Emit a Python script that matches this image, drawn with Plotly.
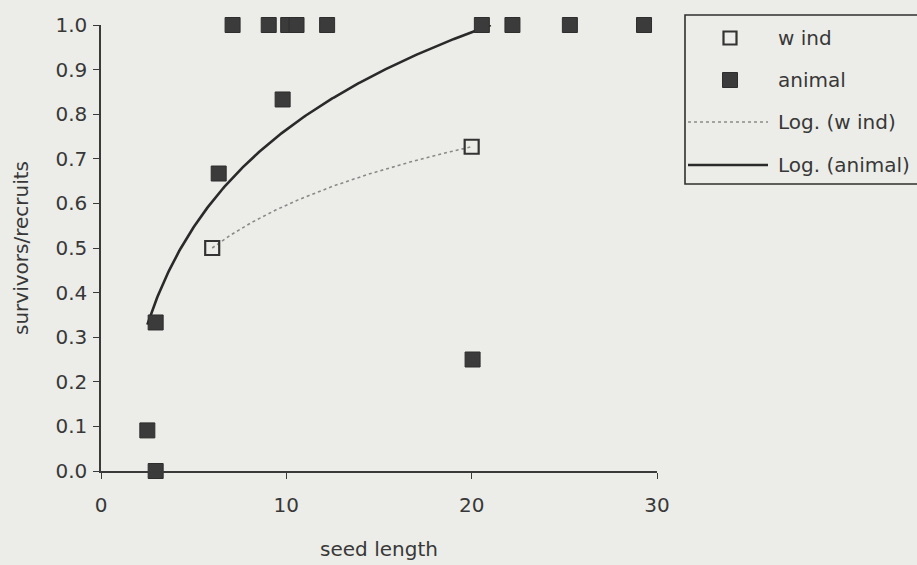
import numpy as np
import plotly.graph_objects as go

# ---- data ----
wind_x = [6.0, 20.0]
wind_y = [0.5, 0.727]

animal_x = [2.5, 2.95, 2.95, 6.35, 7.1, 9.05, 9.8, 10.1, 10.55, 12.2, 20.05, 20.55, 22.2, 25.3, 29.3]
animal_y = [0.091, 0.0, 0.333, 0.667, 1.0, 1.0, 0.833, 1.0, 1.0, 1.0, 0.25, 1.0, 1.0, 1.0, 1.0]

# logarithmic trendline coefficients: y = slope*ln(x) + intercept
animal_trend = dict(slope=0.3155, intercept=0.039)

x_ticks = [0, 10, 20, 30]
y_ticks = [0.0, 0.1, 0.2, 0.3, 0.4, 0.5, 0.6, 0.7, 0.8, 0.9, 1.0]
y_tick_text = [f"{v:.1f}" for v in y_ticks]

legend_labels = ["w ind", "animal", "Log. (w ind)", "Log. (animal)"]


def wind_fit(xs, ys):
    a, b = np.polyfit(np.log(np.asarray(xs, float)), np.asarray(ys, float), 1)
    return a, b


def log_curve(xs, a, b, ymax=1.0, n=300):
    xs = np.asarray(xs, float)
    x_end = xs.max()
    if a > 0:
        x_end = min(x_end, np.exp((ymax - b) / a))
    gx = np.linspace(xs.min(), x_end, n)
    return gx, a * np.log(gx) + b


wa, wb = wind_fit(wind_x, wind_y)
wind_tx, wind_ty = log_curve(wind_x, wa, wb)
animal_tx, animal_ty = log_curve(animal_x, animal_trend["slope"], animal_trend["intercept"])

BG = "#ecede8"
INK = "#333333"
TXT = "#383838"
FONT = "DejaVu Sans, Verdana, sans-serif"

W, H = 917, 565
L, R, T, B = 101, 917 - 657, 25, 565 - 471
PW, PH = W - L - R, H - T - B


def px(x):
    return (x - L) / PW


def py(y):
    return (H - B - y) / PH


fig = go.Figure()

fig.add_trace(go.Scatter(
    x=wind_tx, y=wind_ty, mode="lines", name=legend_labels[2],
    line=dict(color="#8a8a8a", width=1.6, dash="dot"), showlegend=False))
fig.add_trace(go.Scatter(
    x=animal_tx, y=animal_ty, mode="lines", name=legend_labels[3],
    line=dict(color="#2a2a2a", width=2.6), showlegend=False))
fig.add_trace(go.Scatter(
    x=wind_x, y=wind_y, mode="markers", name=legend_labels[0],
    marker=dict(symbol="square-open", size=14, color=INK, line=dict(width=2.2, color=INK)),
    showlegend=False, cliponaxis=False))
fig.add_trace(go.Scatter(
    x=animal_x, y=animal_y, mode="markers", name=legend_labels[1],
    marker=dict(symbol="square", size=15, color="#3b3b3b", line=dict(width=1, color="#2e2e2e")),
    showlegend=False, cliponaxis=False))

# ---- hand-built legend box (matches the reference's wide line samples) ----
shapes = []
annotations = []
shapes.append(dict(type="rect", xref="paper", yref="paper",
                   x0=px(685), x1=px(925), y0=py(184), y1=py(15),
                   line=dict(color="#2f2f2f", width=1.6), fillcolor=BG, layer="above"))
rows = [38, 80, 122, 165]
shapes.append(dict(type="rect", xref="paper", yref="paper",
                   x0=px(723.5), x1=px(736.5), y0=py(44.5), y1=py(31.5),
                   line=dict(color=INK, width=2.2), fillcolor=BG, layer="above"))
shapes.append(dict(type="rect", xref="paper", yref="paper",
                   x0=px(722.5), x1=px(737.5), y0=py(87.5), y1=py(72.5),
                   line=dict(color="#2e2e2e", width=1), fillcolor="#3b3b3b", layer="above"))
shapes.append(dict(type="line", xref="paper", yref="paper",
                   x0=px(688), x1=px(768), y0=py(122), y1=py(122),
                   line=dict(color="#8a8a8a", width=1.6, dash="dot"), layer="above"))
shapes.append(dict(type="line", xref="paper", yref="paper",
                   x0=px(688), x1=px(768), y0=py(165), y1=py(165),
                   line=dict(color="#2a2a2a", width=2.6), layer="above"))
for lab, r in zip(legend_labels, rows):
    annotations.append(dict(xref="paper", yref="paper", x=px(776), y=py(r),
                            text=lab, showarrow=False, xanchor="left", yanchor="middle",
                            font=dict(family=FONT, size=20, color=TXT)))

fig.update_layout(
    width=W, height=H,
    margin=dict(l=L, r=R, t=T, b=B, pad=0, autoexpand=False),
    paper_bgcolor=BG, plot_bgcolor=BG,
    showlegend=False,
    font=dict(family=FONT, size=20, color=TXT),
    shapes=shapes, annotations=annotations,
)
fig.update_xaxes(
    range=[0, 30], tickvals=x_ticks, ticktext=[str(v) for v in x_ticks],
    showgrid=False, zeroline=False, showline=True, linecolor="#3a3a3a", linewidth=1.5,
    ticks="outside", ticklen=6, tickwidth=1.2, tickcolor="#3a3a3a", automargin=False,
    tickfont=dict(family=FONT, size=20, color=TXT), ticklabelstandoff=9,
    title=dict(text="seed length", font=dict(family=FONT, size=20, color=TXT), standoff=26),
)
fig.update_yaxes(
    range=[0, 1.0], tickvals=y_ticks, ticktext=y_tick_text,
    showgrid=False, zeroline=False, showline=True, linecolor="#3a3a3a", linewidth=1.5,
    ticks="outside", ticklen=6, tickwidth=1.2, tickcolor="#3a3a3a", automargin=False,
    tickfont=dict(family=FONT, size=20, color=TXT), ticklabelstandoff=2,
    title=dict(text="survivors/recruits", font=dict(family=FONT, size=20, color=TXT), standoff=21),
)

fig.write_html(
    "out.html",
    config={"displayModeBar": False},
    post_script="document.body.style.margin='0';document.body.style.background='%s';"
                "document.body.style.overflow='hidden';" % BG,
)
